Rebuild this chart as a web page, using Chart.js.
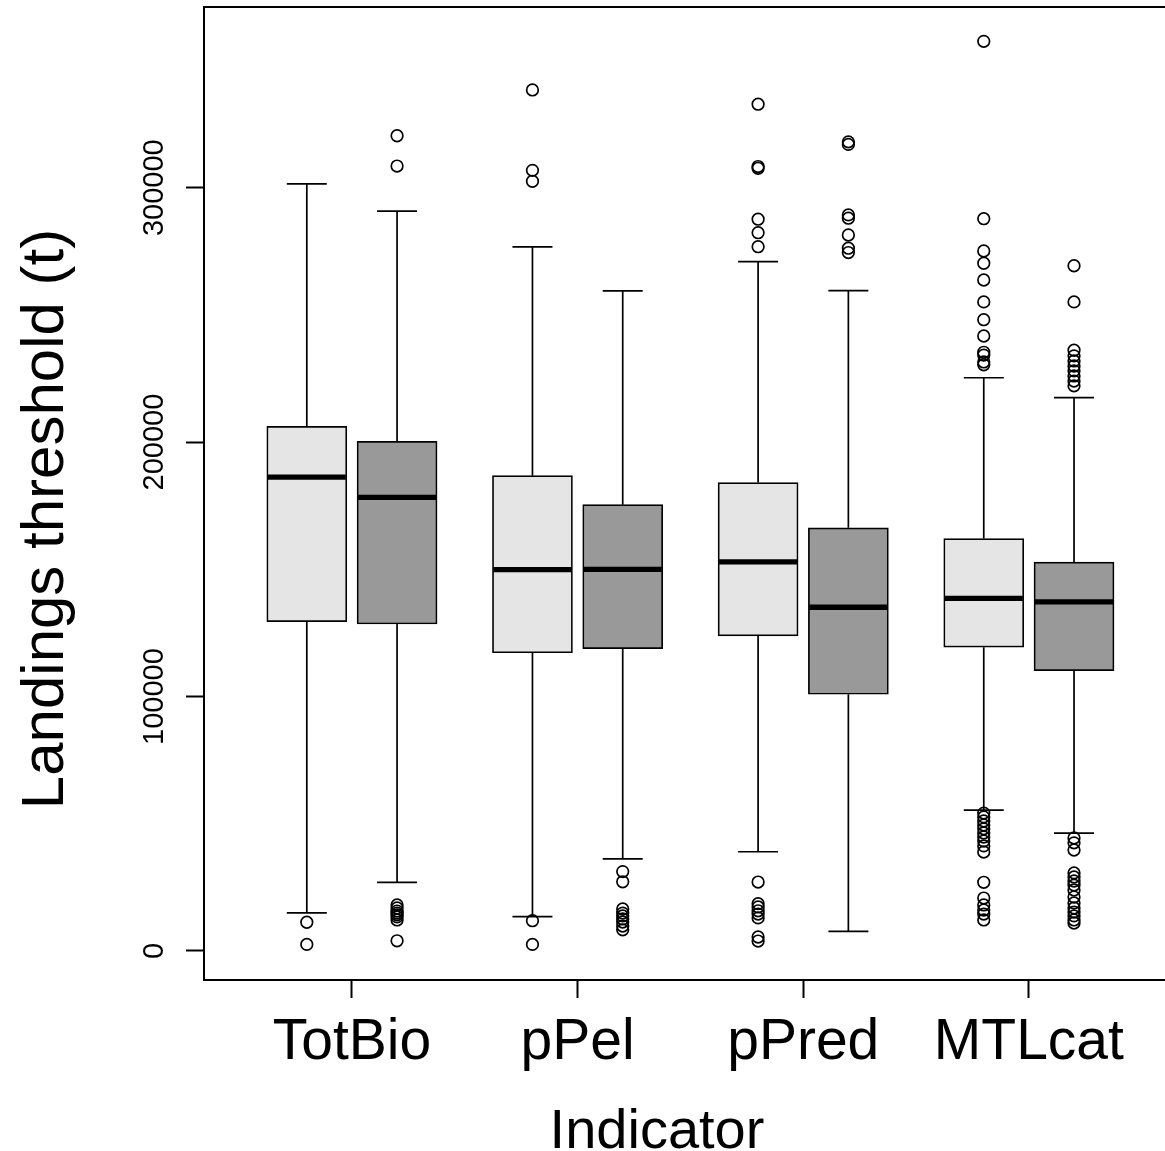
<!DOCTYPE html>
<html>
<head>
<meta charset="utf-8">
<script src="https://cdn.jsdelivr.net/npm/chart.js@4.4.1/dist/chart.umd.min.js"></script>
<style>
  html, body { margin: 0; padding: 0; background: #ffffff; overflow: hidden; }
  canvas { display: block; }
</style>
</head>
<body>
<canvas id="c" width="1165" height="1151"></canvas>
<script>
// ---------------- data ----------------
const categories = ['TotBio', 'pPel', 'pPred', 'MTLcat'];
const seriesNames = ['Series 1', 'Series 2'];
const yTickValues = [0, 100000, 200000, 300000];
const xTitle = 'Indicator';
const yTitle = 'Landings threshold (t)';

// light grey series
const lightWhiskerLow  = [15000, 13500, 39000, 55400];
const lightQ1          = [129400, 117200, 123800, 119400];
const lightMedian      = [186200, 149900, 152900, 138600];
const lightQ3          = [206200, 186800, 184100, 162100];
const lightWhiskerHigh = [301500, 276700, 270900, 225300];
const lightOutliers = [
  [11300, 2600],
  [338400, 306800, 302500, 11900, 2600],
  [332800, 308300, 307600, 287600, 282300, 276800, 27100, 18600, 17300, 15800, 14500, 13000, 5500, 3900],
  [357500, 287800, 275100, 270300, 263700, 255100, 248100, 241700, 235300, 234200, 231500, 230400,
   54200, 52700, 51100, 49500, 48000, 46400, 44800, 43200, 41300, 38900,
   27000, 20800, 18100, 16100, 14500, 12200]
];

// dark grey series
const darkWhiskerLow  = [27000, 36200, 7700, 46300];
const darkQ1          = [128500, 118800, 100900, 110200];
const darkMedian      = [178300, 150000, 135100, 137200];
const darkQ3          = [200300, 175400, 166300, 152800];
const darkWhiskerHigh = [290800, 259400, 259500, 217500];
const darkOutliers = [
  [320400, 308500, 18100, 16900, 15700, 14900, 14200, 13400, 12200, 4000],
  [31200, 27200, 16500, 14900, 13800, 12600, 11400, 9800, 8300],
  [318000, 317000, 289300, 288000, 281400, 276200, 274500],
  [269300, 255100, 236100, 233900, 231900, 229900, 228000, 226000, 224000, 222100,
   44400, 42500, 39700, 30700, 29100, 27500, 25900, 24000, 21200, 18900, 16900, 15300, 13800, 12200, 11000]
];

// ---------------- helpers ----------------
const FONT = "'Liberation Sans', Arial, Helvetica, sans-serif";
const boxX = (i, j) => 1 + 2.5 * i + j;          // category index, series index
const groupX = (i) => 1.5 + 2.5 * i;

const series = [
  { name: seriesNames[0], lo: lightWhiskerLow, q1: lightQ1, med: lightMedian, q3: lightQ3, hi: lightWhiskerHigh, out: lightOutliers, color: '#e5e5e5' },
  { name: seriesNames[1], lo: darkWhiskerLow,  q1: darkQ1,  med: darkMedian,  q3: darkQ3,  hi: darkWhiskerHigh,  out: darkOutliers,  color: '#999999' }
];

const boxDatasets = series.map((s, j) => ({
  type: 'bar',
  label: s.name,
  data: categories.map((c, i) => ({ x: boxX(i, j), y: [s.q1[i], s.q3[i]] })),
  backgroundColor: s.color,
  borderColor: '#000000',
  borderWidth: 1.7,
  borderSkipped: false,
  grouped: false,
  barThickness: 80,
  maxBarThickness: 80,
  order: 2
}));

const outlierData = [];
series.forEach((s, j) => {
  s.out.forEach((arr, i) => arr.forEach(v => outlierData.push({ x: boxX(i, j), y: v })));
});

const outlierDataset = {
  type: 'scatter',
  label: 'outliers',
  data: outlierData,
  pointStyle: 'circle',
  pointRadius: 5.8,
  pointBorderWidth: 1.7,
  pointBorderColor: '#000000',
  pointBackgroundColor: 'rgba(0,0,0,0)',
  order: 0
};

// whiskers, caps, medians, top frame line, axis titles
const boxPlugin = {
  id: 'boxParts',
  afterDatasetsDraw(chart) {
    const ctx = chart.ctx;
    const xs = chart.scales.x, ys = chart.scales.y;
    ctx.save();
    ctx.strokeStyle = '#000000';
    series.forEach((s, j) => {
      const meta = chart.getDatasetMeta(j);
      categories.forEach((c, i) => {
        const bar = meta.data[i];
        const w = bar.width;
        const cx = xs.getPixelForValue(boxX(i, j));
        const pHi = ys.getPixelForValue(s.hi[i]);
        const pLo = ys.getPixelForValue(s.lo[i]);
        const pQ1 = ys.getPixelForValue(s.q1[i]);
        const pQ3 = ys.getPixelForValue(s.q3[i]);
        const pMed = ys.getPixelForValue(s.med[i]);
        ctx.lineWidth = 1.7;
        ctx.beginPath();
        ctx.moveTo(cx, pQ3); ctx.lineTo(cx, pHi);
        ctx.moveTo(cx, pQ1); ctx.lineTo(cx, pLo);
        ctx.moveTo(cx - w / 4, pHi); ctx.lineTo(cx + w / 4, pHi);
        ctx.moveTo(cx - w / 4, pLo); ctx.lineTo(cx + w / 4, pLo);
        ctx.stroke();
        ctx.lineWidth = 5.3;
        ctx.beginPath();
        ctx.moveTo(cx - w / 2 + 1, pMed); ctx.lineTo(cx + w / 2 - 1, pMed);
        ctx.stroke();
      });
    });
    // top frame line
    const a = chart.chartArea;
    ctx.lineWidth = 2;
    ctx.beginPath();
    ctx.moveTo(a.left - 1, a.top); ctx.lineTo(a.right, a.top);
    ctx.stroke();
    ctx.restore();
  },
  afterDraw(chart) {
    const ctx = chart.ctx;
    ctx.save();
    ctx.fillStyle = '#000000';
    ctx.textAlign = 'center';
    ctx.textBaseline = 'alphabetic';
    ctx.font = '56px ' + FONT;
    ctx.fillText(xTitle, 657, 1148);
    ctx.translate(63, 519);
    ctx.rotate(-Math.PI / 2);
    ctx.font = '60px ' + FONT;
    ctx.fillText(yTitle, 0, 0);
    ctx.restore();
  }
};

new Chart(document.getElementById('c'), {
  type: 'bar',
  data: { datasets: [...boxDatasets, outlierDataset] },
  plugins: [boxPlugin],
  options: {
    responsive: false,
    animation: false,
    events: [],
    layout: { autoPadding: false, padding: { top: 7, left: 0, right: 0, bottom: 0 } },
    plugins: { legend: { display: false }, tooltip: { enabled: false } },
    scales: {
      x: {
        type: 'linear',
        offset: false,
        min: -0.139,
        max: 10.508,
        afterBuildTicks: (scale) => { scale.ticks = categories.map((c, i) => ({ value: groupX(i) })); },
        afterFit: (scale) => { scale.height = 171; scale.paddingLeft = 0; scale.paddingRight = 0; },
        ticks: {
          callback: (v, idx) => categories[idx],
          color: '#000000',
          font: { family: FONT, size: 57 },
          padding: 11,
          maxRotation: 0,
          autoSkip: false
        },
        grid: { offset: false, drawOnChartArea: false, drawTicks: true, tickLength: 18, tickWidth: 2, color: '#000000' },
        border: { display: true, color: '#000000', width: 2 }
      },
      y: {
        type: 'linear',
        min: -11400,
        max: 371000,
        afterBuildTicks: (scale) => { scale.ticks = yTickValues.map(v => ({ value: v })); },
        afterFit: (scale) => { scale.width = 204; scale.paddingTop = 0; scale.paddingBottom = 0; },
        ticks: {
          callback: (v) => String(v),
          color: '#000000',
          font: { family: FONT, size: 29 },
          minRotation: 90,
          maxRotation: 90,
          crossAlign: 'center',
          padding: -17,
          autoSkip: false
        },
        grid: { drawOnChartArea: false, drawTicks: true, tickLength: 18, tickWidth: 2, color: '#000000' },
        border: { display: true, color: '#000000', width: 2 }
      }
    }
  }
});
</script>
</body>
</html>
